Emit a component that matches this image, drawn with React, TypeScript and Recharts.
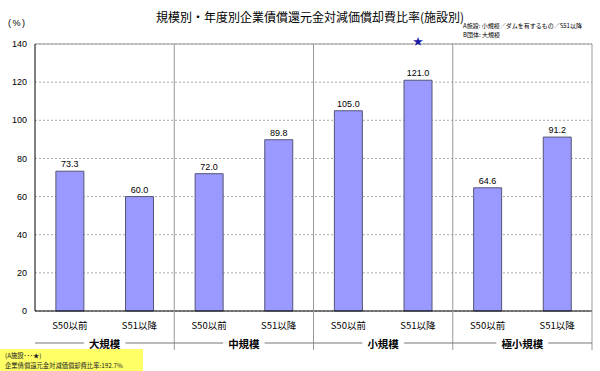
import React from "react";
import {
  BarChart,
  Bar,
  XAxis,
  YAxis,
  CartesianGrid,
  LabelList,
  ReferenceLine,
} from "recharts";

const categories = ["S50以前", "S51以降", "S50以前", "S51以降", "S50以前", "S51以降", "S50以前", "S51以降"];
const groups = ["大規模", "中規模", "小規模", "極小規模"];
const values = [73.3, 60.0, 72.0, 89.8, 105.0, 121.0, 64.6, 91.2];
const starMarks = ["", "", "", "", "", "★", "", ""];
const yTicks = [0, 20, 40, 60, 80, 100, 120, 140];

const W = 600;
const H = 371;
const X_AXIS_H = 30;
const MARGIN = { top: 44, right: 8, bottom: 60 - X_AXIS_H, left: 5 };
const Y_AXIS_W = 30;
const PLOT_TOP = MARGIN.top;
const PLOT_W = W - MARGIN.left - Y_AXIS_W - MARGIN.right;
const BW = PLOT_W / categories.length;

const FONT = '"Liberation Sans", "Noto Sans CJK JP", sans-serif';
const CJK = '"Noto Sans CJK JP", "Liberation Sans", sans-serif';

const data = categories.map((c, i) => ({
  name: c,
  value: values[i],
  star: starMarks[i],
}));

const XTick = (props: any) => {
  const { x, y, payload } = props;
  const i = payload.index;
  const els: any[] = [];
  els.push(
    <text key="c" x={x} y={y + 14} textAnchor="middle" dominantBaseline="central" fontSize={9.5} fill="#000" fontFamily={CJK}>
      {payload.value}
    </text>
  );
  if (i % 2 === 1) {
    const sepX = x + BW / 2;
    const leftX = x - 1.5 * BW;
    const cx = x - BW / 2;
    const label = groups[(i - 1) / 2];
    const fs = 10.5;
    const half = (label.length * fs) / 2 + 5;
    const ly = y + 32;
    els.push(<line key="s" x1={sepX} x2={sepX} y1={PLOT_TOP} y2={y + 39} stroke="#999" strokeWidth={1} />);
    els.push(<line key="l1" x1={leftX} x2={cx - half} y1={ly} y2={ly} stroke="#777" strokeWidth={1} />);
    els.push(<line key="l2" x1={cx + half} x2={sepX} y1={ly} y2={ly} stroke="#777" strokeWidth={1} />);
    els.push(
      <text key="g" x={cx} y={ly} textAnchor="middle" dominantBaseline="central" fontSize={fs} fontWeight="bold" fill="#000" fontFamily={CJK}>
        {label}
      </text>
    );
  }
  return <g>{els}</g>;
};

const StarLabel = (props: any) => {
  const { x, width, value } = props;
  if (!value) return null;
  return (
    <text x={x + width / 2} y={PLOT_TOP - 4} textAnchor="middle" dominantBaseline="central" fontSize={10} fill="#1a1aa8" fontFamily={CJK}>
      {value}
    </text>
  );
};

export default function App() {
  return (
    <div style={{ position: "absolute", left: 0, top: 0, width: W, height: H, background: "#fff", overflow: "hidden" }}>
      <BarChart width={W} height={H} data={data} margin={MARGIN} barCategoryGap="30%">
        <CartesianGrid vertical={false} stroke="#aaa" strokeDasharray="2 2" />
        <ReferenceLine y={140} stroke="#999" strokeWidth={1} />
        <XAxis
          dataKey="name"
          height={X_AXIS_H}
          interval={0}
          tickLine={false}
          tickSize={0}
          tickMargin={0}
          axisLine={{ stroke: "#000" }}
          tick={<XTick />}
        />
        <YAxis
          width={Y_AXIS_W}
          domain={[0, 140]}
          ticks={yTicks}
          interval={0}
          tickLine={false}
          axisLine={{ stroke: "#000" }}
          tick={{ fontSize: 9, fill: "#000", fontFamily: FONT }}
        />
        <Bar dataKey="value" fill="#9999ff" stroke="#555577" strokeWidth={1} isAnimationActive={false}>
          <LabelList dataKey="value" position="top" offset={4} formatter={(v: any) => Number(v).toFixed(1)} style={{ fontSize: 9, fill: "#000", fontFamily: FONT }} />
          <LabelList dataKey="star" content={<StarLabel />} />
        </Bar>
      </BarChart>
      <div style={{ position: "absolute", left: 156, top: 9, fontSize: 12, lineHeight: "16px", fontFamily: CJK, color: "#000", whiteSpace: "nowrap" }}>
        規模別・年度別企業債償還元金対減価償却費比率(施設別)
      </div>
      <div style={{ position: "absolute", left: 463, top: 21, fontSize: 6, lineHeight: "9px", fontFamily: CJK, color: "#000", whiteSpace: "nowrap" }}>
        <div>A施設: 小規模／ダムを有するもの／S51以降</div>
        <div>B団体: 大規模</div>
      </div>
      <div style={{ position: "absolute", left: 8, top: 17, fontSize: 9, lineHeight: "12px", letterSpacing: 1.5, fontFamily: FONT, color: "#000" }}>(%)</div>
      <div style={{ position: "absolute", left: 0, top: 349, width: 143, height: 22, background: "#ffff66" }}>
        <div style={{ position: "absolute", left: 5, top: 2, fontSize: 6.3, lineHeight: "9.5px", fontFamily: CJK, color: "#222", whiteSpace: "nowrap" }}>
          <div>(A施設･･･★)</div>
          <div>企業債償還元金対減価償却費比率:192.7%</div>
        </div>
      </div>
    </div>
  );
}
